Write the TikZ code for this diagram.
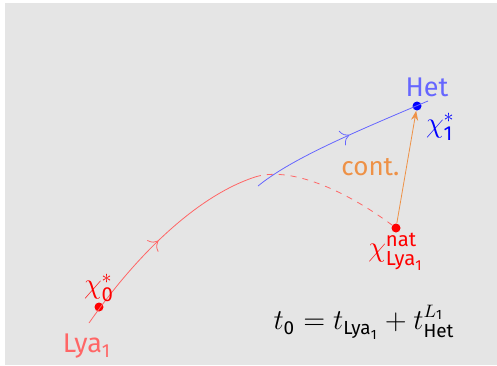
\documentclass[tikz,border=0pt]{standalone}
\usepackage{amsmath}
\usepackage{fontspec}
\setmainfont{Fira Sans}
\setsansfont{Fira Sans}
\usepackage{tikz}
\usetikzlibrary{arrows.meta,positioning,decorations.markings}

\definecolor{bggray}{RGB}{229,229,229}
\definecolor{contcol}{RGB}{238,145,70}

\begin{document}
\begin{tikzpicture}[x=0.5pt, y=-0.5pt, >=Stealth,
    font=\fontsize{13.5}{16}\selectfont,
    mathlbl/.style={font=\fontsize{14.5}{16}\selectfont},
    dot/.style={circle, fill, inner sep=0pt, minimum size=4.5pt},
    midarrow/.style={postaction={decorate, decoration={markings,
      mark=at position #1 with {\arrow{To[length=4pt,width=8pt]}}}}}]
  %% Background
  \useasboundingbox (0,0) rectangle (497,365);
  \fill[bggray] (5,3) rectangle (497,365);

  %% Points
  \coordinate (lyastart) at (89,323);
  \coordinate (lyaend)   at (255,177);
  \coordinate (hetstart) at (258,186);
  \coordinate (hetend)   at (428,101);
  \node[dot, red]  (x0)  at (99,307) {};
  \node[dot, red]  (nat) at (396,228) {};
  \node[dot, blue] (x1)  at (417,106) {};

  %% Trajectories
  \draw[red!60, midarrow=0.48] (lyastart) .. controls (140,250) and (200,195) .. (lyaend);
  \draw[red!60, dashed] (lyaend) .. controls (290,166) and (345,190) .. (nat);
  \draw[blue!60, midarrow=0.55] (hetstart) .. controls (290,160) and (345,136) .. (hetend);

  %% Continuation
  \draw[->, contcol] (nat) -- (x1)
    node[midway, left=0pt, font=\fontsize{13}{15}\selectfont]{cont.};

  %% Labels
  \node[red!60, below=2pt, xshift=-1pt] (lyalbl) at (lyastart) {Lya$_{\text{1}}$};
  \node[red, mathlbl, above=-1pt] (x0lbl) at (x0) {$\chi_{\text{0}}^*$};
  \node[blue!60, above=1pt, xshift=5pt] (hetlbl) at (x1) {Het};
  \node[blue, mathlbl, below right=0pt and 1pt] (x1lbl) at (x1) {$\chi_{\text{1}}^*$};
  \node[red, mathlbl, below=-1pt] (natlbl) at (nat) {$\chi_{\text{Lya}_{\text{1}}}^{\text{nat}}$};
  \node[font=\fontsize{13.5}{16}\selectfont] (eq) at (364,322)
    {$t_{\text{0}} = t_{\text{Lya}_{\text{1}}} + t_{\text{Het}}^{L_{\text{1}}}$};
\end{tikzpicture}
\end{document}
